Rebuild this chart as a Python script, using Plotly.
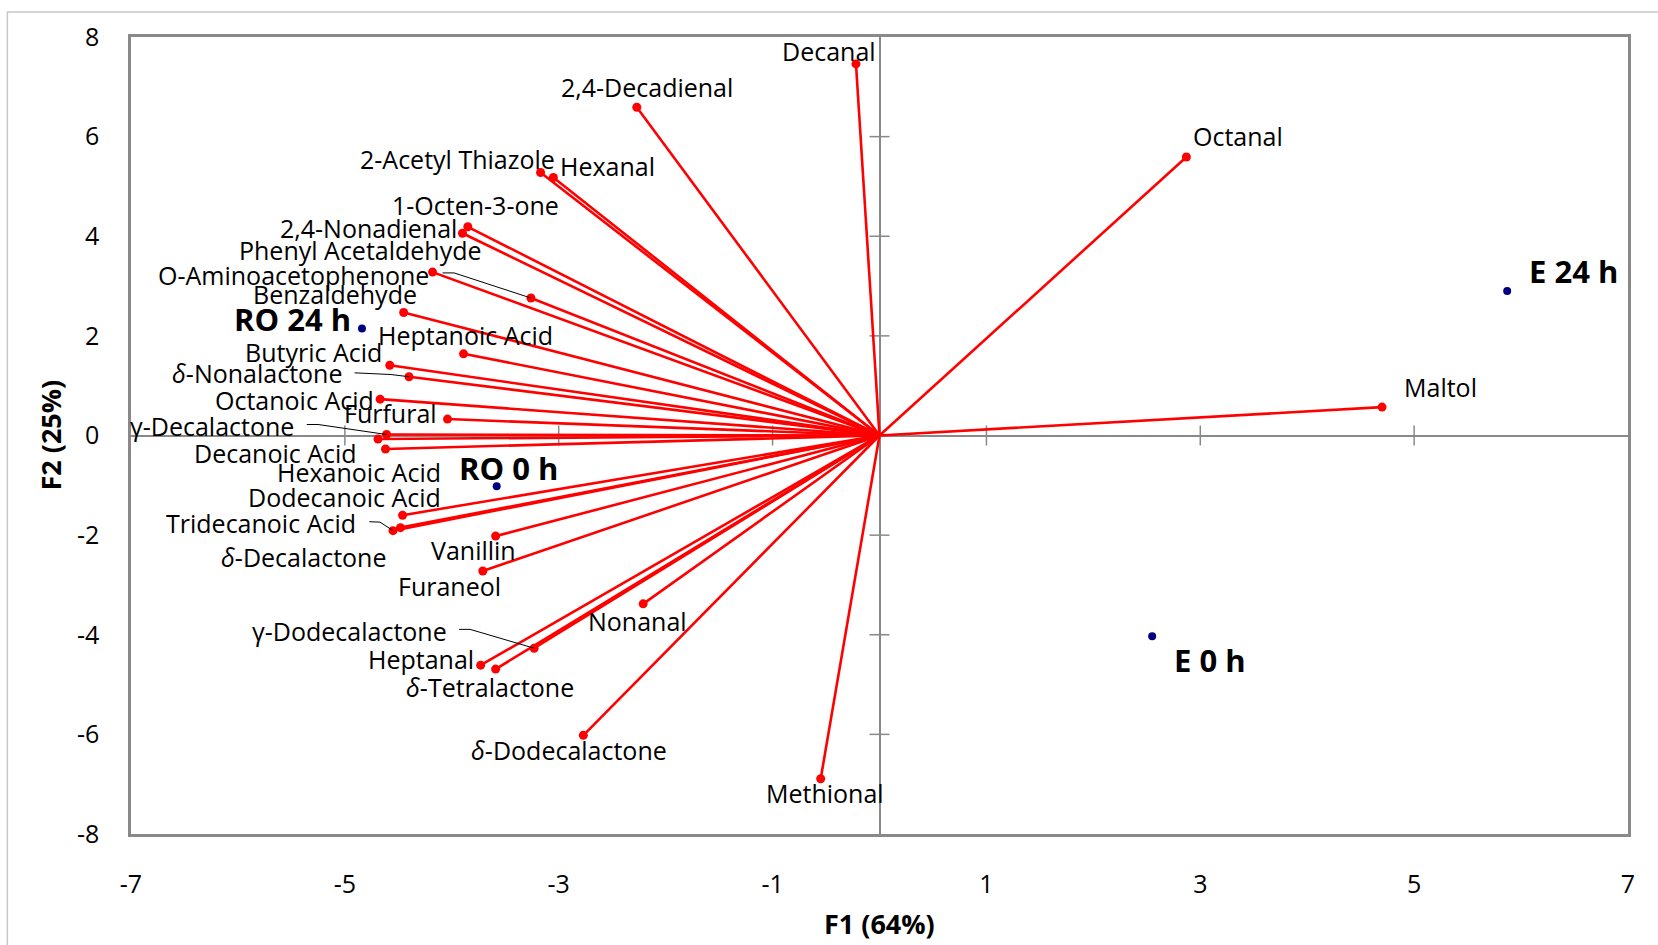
import plotly.graph_objects as go

# ---------------- data ----------------
compounds = [
    "Decanal", "2,4-Decadienal", "Octanal", "2-Acetyl Thiazole", "Hexanal",
    "1-Octen-3-one", "2,4-Nonadienal", "Phenyl Acetaldehyde", "O-Aminoacetophenone",
    "Benzaldehyde", "Heptanoic Acid", "Butyric Acid", "<i>δ</i>-Nonalactone",
    "Octanoic Acid", "Furfural", "γ-Decalactone", "Decanoic Acid", "Hexanoic Acid",
    "Dodecanoic Acid", "<i>δ</i>-Decalactone", "Tridecanoic Acid", "Vanillin",
    "Furaneol", "Nonanal", "γ-Dodecalactone", "Heptanal", "<i>δ</i>-Tetralactone",
    "<i>δ</i>-Dodecalactone", "Methional", "Maltol",
]
f1 = [-0.22, -2.27, 2.87, -3.17, -3.05,
      -3.85, -3.90, -4.18, -3.26,
      -4.45, -3.89, -4.58, -4.40,
      -4.67, -4.04, -4.61, -4.69, -4.62,
      -4.46, -4.48, -4.55, -3.59,
      -3.71, -2.21, -3.23, -3.73, -3.59,
      -2.77, -0.55, 4.70]
f2 = [7.46, 6.59, 5.59, 5.28, 5.18,
      4.19, 4.06, 3.28, 2.76,
      2.47, 1.64, 1.41, 1.18,
      0.73, 0.33, 0.02, -0.07, -0.27,
      -1.60, -1.85, -1.91, -2.02,
      -2.72, -3.38, -4.27, -4.61, -4.69,
      -6.02, -6.89, 0.57]

samples = ["RO 24 h", "RO 0 h", "E 24 h", "E 0 h"]
s_f1 = [-4.84, -3.58, 5.87, 2.55]
s_f2 = [2.15, -1.02, 2.90, -4.03]

x_tickvals = [-7, -5, -3, -1, 1, 3, 5, 7]
x_ticktext = ["-7", "-5", "-3", "-1", "1", "3", "5", "7"]
y_tickvals = [-8, -6, -4, -2, 0, 2, 4, 6, 8]
y_ticktext = ["-8", "-6", "-4", "-2", "0", "2", "4", "6", "8"]

x_title = "F1 (64%)"
y_title = "F2 (25%)"

# ---------------- label layout (positions of the text boxes) ----------------
label_pos = {
    "Decanal": (-0.47, 7.71),
    "2,4-Decadienal": (-2.17, 7.00),
    "Octanal": (3.35, 6.01),
    "2-Acetyl Thiazole": (-3.95, 5.56),
    "Hexanal": (-2.54, 5.41),
    "1-Octen-3-one": (-3.78, 4.62),
    "2,4-Nonadienal": (-4.78, 4.16),
    "Phenyl Acetaldehyde": (-4.85, 3.72),
    "O-Aminoacetophenone": (-5.48, 3.23),
    "Benzaldehyde": (-5.09, 2.85),
    "Heptanoic Acid": (-3.87, 2.02),
    "Butyric Acid": (-5.29, 1.68),
    "<i>δ</i>-Nonalactone": (-5.82, 1.26),
    "Octanoic Acid": (-5.47, 0.71),
    "Furfural": (-4.57, 0.45),
    "γ-Decalactone": (-6.24, 0.20),
    "Decanoic Acid": (-5.65, -0.35),
    "Hexanoic Acid": (-4.87, -0.74),
    "Dodecanoic Acid": (-5.00, -1.24),
    "Tridecanoic Acid": (-5.78, -1.75),
    "<i>δ</i>-Decalactone": (-5.39, -2.43),
    "Vanillin": (-3.80, -2.29),
    "Furaneol": (-4.02, -3.03),
    "Nonanal": (-2.26, -3.72),
    "γ-Dodecalactone": (-4.96, -3.92),
    "Heptanal": (-4.29, -4.49),
    "<i>δ</i>-Tetralactone": (-3.64, -5.04),
    "<i>δ</i>-Dodecalactone": (-2.90, -6.31),
    "Methional": (-0.51, -7.18),
    "Maltol": (5.25, 0.98),
}
sample_label_pos = {
    "RO 24 h": (-5.49, 2.34),
    "RO 0 h": (-3.47, -0.65),
    "E 24 h": (6.49, 3.31),
    "E 0 h": (3.09, -4.51),
}
# leader lines: label end -> knee -> point (for labels moved away from their point)
leader_start = {
    "O-Aminoacetophenone": [(-4.086, 3.264), (-3.978, 3.264)],
    "<i>δ</i>-Nonalactone": [(-4.909, 1.258), (-4.569, 1.224)],
    "γ-Decalactone": [(-5.356, 0.221), (-5.251, 0.221)],
    "Tridecanoic Acid": [(-4.771, -1.731), (-4.671, -1.739)],
    "γ-Dodecalactone": [(-3.932, -3.892), (-3.829, -3.892)],
}

FONT = "Open Sans"
RED = "#FF0000"
NAVY = "#000080"
GRAY = "#898989"

fig = go.Figure()

# vectors from origin
vx, vy = [], []
for x, y in zip(f1, f2):
    vx += [0, x, None]
    vy += [0, y, None]
fig.add_trace(go.Scatter(x=vx, y=vy, mode="lines",
                         line=dict(color=RED, width=2.6),
                         hoverinfo="skip", showlegend=False))
# vector end points
fig.add_trace(go.Scatter(x=f1, y=f2, mode="markers", text=compounds,
                         marker=dict(color=RED, size=9),
                         showlegend=False))
# leader lines
lx, ly = [], []
for name, pts in leader_start.items():
    i = compounds.index(name)
    for (px, py) in pts:
        lx.append(px)
        ly.append(py)
    lx += [f1[i], None]
    ly += [f2[i], None]
fig.add_trace(go.Scatter(x=lx, y=ly, mode="lines",
                         line=dict(color="black", width=1),
                         hoverinfo="skip", showlegend=False))
# sample points
fig.add_trace(go.Scatter(x=s_f1, y=s_f2, mode="markers", text=samples,
                         marker=dict(color=NAVY, size=8),
                         showlegend=False))

annotations = []
for name in compounds:
    ax_, ay_ = label_pos[name]
    annotations.append(dict(x=ax_, y=ay_, xref="x", yref="y", text=name,
                            showarrow=False, xanchor="center", yanchor="middle",
                            font=dict(family=FONT, size=25, color="black")))
for name in samples:
    ax_, ay_ = sample_label_pos[name]
    annotations.append(dict(x=ax_, y=ay_, xref="x", yref="y", text="<b>%s</b>" % name,
                            showarrow=False, xanchor="center", yanchor="middle",
                            font=dict(family=FONT, size=31, color="black")))
# axis titles
annotations.append(dict(x=0.5, y=0, xref="paper", yref="paper", text="<b>%s</b>" % x_title,
                        showarrow=False, xanchor="center", yanchor="middle", yshift=-89,
                        font=dict(family=FONT, size=27, color="black")))
annotations.append(dict(x=0, y=0.5, xref="paper", yref="paper", text="<b>%s</b>" % y_title,
                        showarrow=False, xanchor="center", yanchor="middle", xshift=-81,
                        textangle=-90,
                        font=dict(family=FONT, size=27, color="black")))

shapes = []
# tick marks crossing the zero lines
for v in x_tickvals[1:-1]:
    shapes.append(dict(type="line", xref="x", yref="y", x0=v, x1=v,
                       ysizemode="pixel", yanchor=0, y0=-10, y1=10,
                       line=dict(color=GRAY, width=1.5), layer="below"))
for v in y_tickvals[1:-1]:
    if v == 0:
        continue
    shapes.append(dict(type="line", xref="x", yref="y", y0=v, y1=v,
                       xsizemode="pixel", xanchor=0, x0=-10, x1=10,
                       line=dict(color=GRAY, width=1.5), layer="below"))
# outer chart border
shapes.append(dict(type="rect", xref="paper", yref="paper",
                   x0=-0.0826, x1=1.2, y0=-0.3, y1=1.0314,
                   line=dict(color="#c8c8c8", width=1.5), layer="below"))

fig.update_layout(
    width=1658, height=945,
    margin=dict(l=131, r=30, t=37, b=111),
    paper_bgcolor="white", plot_bgcolor="white",
    showlegend=False,
    annotations=annotations,
    shapes=shapes,
    font=dict(family=FONT, color="black"),
)
fig.update_xaxes(range=[-7, 7], tickvals=x_tickvals, ticktext=x_ticktext,
                 showgrid=False, zeroline=True, zerolinecolor=GRAY, zerolinewidth=1.5,
                 showline=True, mirror=True, linecolor=GRAY, linewidth=2.5,
                 ticks="", ticklabelstandoff=26,
                 tickfont=dict(family=FONT, size=25, color="black"))
fig.update_yaxes(range=[-8, 8], tickvals=y_tickvals, ticktext=y_ticktext,
                 showgrid=False, zeroline=True, zerolinecolor=GRAY, zerolinewidth=1.5,
                 showline=True, mirror=True, linecolor=GRAY, linewidth=2.5,
                 ticks="", ticklabelstandoff=24,
                 tickfont=dict(family=FONT, size=25, color="black"))

fig.write_html("out.html")
